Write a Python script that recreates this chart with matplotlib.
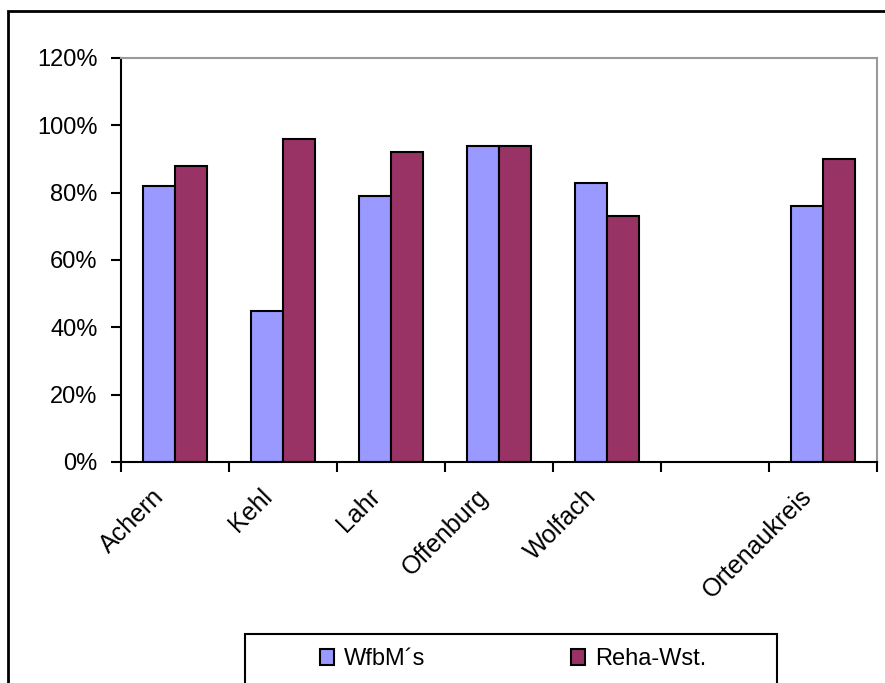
import matplotlib.pyplot as plt
from matplotlib.patches import Rectangle
from matplotlib.ticker import PercentFormatter
import matplotlib.transforms as mtransforms
import numpy as np

plt.rcParams['font.family'] = ['Liberation Sans', 'DejaVu Sans']

# data
categories = ['Achern', 'Kehl', 'Lahr', 'Offenburg', 'Wolfach', '', 'Ortenaukreis']
wfbm = [82, 45, 79, 94, 83, np.nan, 76]
reha = [88, 96, 92, 94, 73, np.nan, 90]
series_names = ['WfbM´s', 'Reha-Wst.']
colors = ['#9999FF', '#993366']
y_ticks = [0, 20, 40, 60, 80, 100, 120]

W, H = 885, 683
fig = plt.figure(figsize=(W / 100, H / 100), dpi=100)
ax = fig.add_axes([121 / W, (H - 462) / H, (877 - 121) / W, (462 - 58) / H])

x = np.arange(len(categories))
bw = 0.3
b1 = ax.bar(x - bw / 2, wfbm, bw, color=colors[0], edgecolor='black', linewidth=1.5,
            label=series_names[0])
b2 = ax.bar(x + bw / 2, reha, bw, color=colors[1], edgecolor='black', linewidth=1.5,
            label=series_names[1])

ax.set_xlim(-0.5, len(categories) - 0.5)
ax.set_ylim(0, 120)
ax.set_yticks(y_ticks)
ax.yaxis.set_major_formatter(PercentFormatter(decimals=0))
ax.tick_params(axis='y', direction='out', length=7, width=1.5, labelsize=17, pad=10)

# labels at category centres, ticks on category boundaries
ax.set_xticks(x)
ax.set_xticklabels(categories, rotation=45, ha='right', va='top',
                   rotation_mode='anchor', fontsize=18)
ax.tick_params(axis='x', which='major', length=0, pad=16)
shift = mtransforms.ScaledTranslation(-23 / 100, 0, fig.dpi_scale_trans)
for lbl in ax.get_xticklabels():
    lbl.set_transform(lbl.get_transform() + shift)
ax.set_xticks(np.arange(len(categories) + 1) - 0.5, minor=True)
ax.tick_params(axis='x', which='minor', direction='out', length=7, width=1.5)

for s in ['left', 'bottom']:
    ax.spines[s].set_linewidth(1.5)
    ax.spines[s].set_color('black')
for s in ['top', 'right']:
    ax.spines[s].set_linewidth(1.5)
    ax.spines[s].set_color('#999999')

# outer chart frame
fig.add_artist(Rectangle((8 / W, -0.2), 1.5, (H - 11) / H + 0.2,
                         transform=fig.transFigure, fill=False,
                         edgecolor='black', linewidth=2))

# legend with its box
leg = fig.legend(handles=[b1, b2], loc='center', bbox_to_anchor=(513 / W, (H - 659) / H),
                 ncol=2, frameon=False, fontsize=17, handlelength=0.6,
                 handleheight=0.65, handletextpad=0.4, columnspacing=6.2)
fig.add_artist(Rectangle((245 / W, -0.1), (777 - 245) / W, (H - 634) / H + 0.1,
                         transform=fig.transFigure, fill=False,
                         edgecolor='black', linewidth=1.5))

fig.savefig('out.png', dpi=100)
